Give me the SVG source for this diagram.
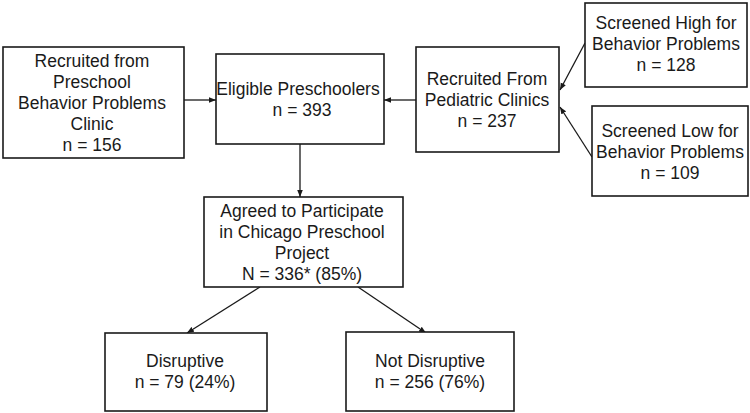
<svg xmlns="http://www.w3.org/2000/svg" width="750" height="413" viewBox="0 0 750 413">
<style>
.box{fill:#fff;stroke:#1a1a1a;stroke-width:1.6}
.t{font-family:"Liberation Sans",Arial,sans-serif;font-size:17.5px;fill:#1a1a1a;text-anchor:middle}
.c{stroke:#1a1a1a;stroke-width:1.3;fill:none;marker-end:url(#ah)}
</style>
<defs>
<marker id="ah" viewBox="0 0 10 10" refX="10" refY="5" markerWidth="7" markerHeight="7" markerUnits="userSpaceOnUse" orient="auto">
<path d="M0,1 L10,5 L0,9 z" fill="#1a1a1a"/>
</marker>
</defs>
<rect width="750" height="413" fill="#fff"/>
<g id="connectors">
<line class="c" x1="184" y1="100" x2="216" y2="100"/>
<line class="c" x1="416" y1="100" x2="384" y2="100"/>
<line class="c" x1="585" y1="43" x2="560" y2="90"/>
<line class="c" x1="592" y1="157" x2="560" y2="107"/>
<line class="c" x1="300" y1="144" x2="300" y2="197"/>
<line class="c" x1="260" y1="287" x2="187" y2="333"/>
<line class="c" x1="358" y1="287" x2="426" y2="333"/>
</g>
<g id="preschool-clinic">
<rect class="box" x="3" y="47" width="181" height="111"/>
<text class="t" x="92" y="67">Recruited from</text>
<text class="t" x="92" y="88">Preschool</text>
<text class="t" x="92" y="109">Behavior Problems</text>
<text class="t" x="92" y="130">Clinic</text>
<text class="t" x="92" y="151">n = 156</text>
</g>
<g id="eligible">
<rect class="box" x="216" y="54" width="168" height="90"/>
<text class="t" x="298" y="95">Eligible Preschoolers</text>
<text class="t" x="302" y="116">n = 393</text>
</g>
<g id="pediatric">
<rect class="box" x="416" y="47" width="143" height="105"/>
<text class="t" x="487" y="85">Recruited From</text>
<text class="t" x="487" y="106">Pediatric Clinics</text>
<text class="t" x="487" y="127">n = 237</text>
</g>
<g id="screened-high">
<rect class="box" x="585" y="3" width="162" height="84"/>
<text class="t" x="666" y="29">Screened High for</text>
<text class="t" x="666" y="50">Behavior Problems</text>
<text class="t" x="666" y="71">n = 128</text>
</g>
<g id="screened-low">
<rect class="box" x="592" y="106" width="156" height="90"/>
<text class="t" x="670" y="137">Screened Low for</text>
<text class="t" x="670" y="158">Behavior Problems</text>
<text class="t" x="670" y="179">n = 109</text>
</g>
<g id="agreed">
<rect class="box" x="204" y="197" width="199" height="90"/>
<text class="t" x="302" y="217">Agreed to Participate</text>
<text class="t" x="302" y="238">in Chicago Preschool</text>
<text class="t" x="302" y="259">Project</text>
<text class="t" x="302" y="280">N = 336* (85%)</text>
</g>
<g id="disruptive">
<rect class="box" x="105" y="333" width="162" height="78"/>
<text class="t" x="185" y="367">Disruptive</text>
<text class="t" x="185" y="388">n = 79 (24%)</text>
</g>
<g id="not-disruptive">
<rect class="box" x="346" y="332" width="168" height="79"/>
<text class="t" x="430" y="367">Not Disruptive</text>
<text class="t" x="430" y="388">n = 256 (76%)</text>
</g>
</svg>
